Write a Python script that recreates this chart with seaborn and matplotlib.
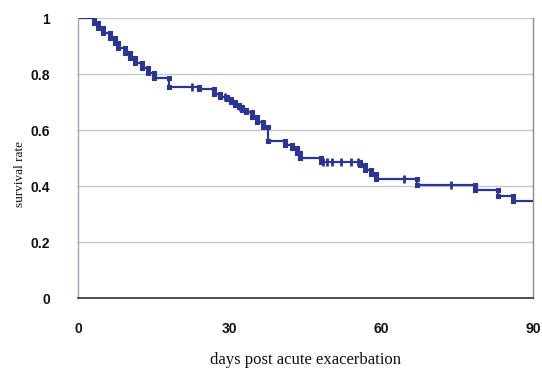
import numpy as np
import pandas as pd
import matplotlib
matplotlib.use("Agg")
import matplotlib.pyplot as plt
import seaborn as sns

# Kaplan-Meier style survival estimate after acute exacerbation
event_days = [0, 3.2, 4.0, 5.0, 6.3, 7.3, 8.0, 9.2, 10.3, 11.3, 12.6, 13.8, 15.0,
              18.0, 24.0, 27.0, 28.0, 29.5, 30.3, 31.0, 31.8, 32.5, 33.2, 34.5,
              35.5, 36.5, 37.5, 41.0, 42.3, 43.3, 44.0, 48.0, 55.8, 56.8, 58.0,
              59.0, 67.0, 78.5, 83.0, 86.0, 90.0]
survival = [1.0, 0.982, 0.964, 0.946, 0.929, 0.911, 0.893, 0.875, 0.857, 0.839,
            0.821, 0.804, 0.786, 0.754, 0.745, 0.727, 0.718, 0.709, 0.700, 0.691,
            0.682, 0.673, 0.664, 0.646, 0.628, 0.610, 0.560, 0.546, 0.536, 0.518,
            0.500, 0.487, 0.475, 0.457, 0.443, 0.425, 0.404, 0.386, 0.365, 0.345,
            0.345]
censored_days = [22.5, 29.0, 32.0, 48.5, 49.3, 50.2, 52.0, 54.0, 55.3, 64.5, 73.8]

x_ticks = [0, 30, 60, 90]
y_ticks = [0, 0.2, 0.4, 0.6, 0.8, 1.0]
y_tick_labels = ["0", "0.2", "0.4", "0.6", "0.8", "1"]

line_color = "#2b3592"

sns.set_theme(style="white")

fig = plt.figure(figsize=(5.42, 3.69), dpi=100)
ax = fig.add_axes([78 / 542, 71 / 369, 455 / 542, 280 / 369])

curve = pd.DataFrame({"day": event_days, "surv": survival})
sns.lineplot(data=curve, x="day", y="surv", ax=ax, color=line_color,
             linewidth=1.6, drawstyle="steps-post", estimator=None, sort=False)

# vertices of every step, marked like the original spreadsheet curve
vx, vy = [], []
for i in range(1, len(event_days) - 1):
    vx += [event_days[i], event_days[i]]
    vy += [survival[i - 1], survival[i]]
verts = pd.DataFrame({"day": vx, "surv": vy})
sns.scatterplot(data=verts, x="day", y="surv", ax=ax, marker="s", s=7,
                color=line_color, edgecolor=line_color, linewidth=0.8, zorder=3)

# censoring ticks
idx = np.searchsorted(event_days, censored_days, side="right") - 1
cens = pd.DataFrame({"day": censored_days,
                     "surv": [survival[i] for i in idx]})
sns.scatterplot(data=cens, x="day", y="surv", ax=ax, marker="|", s=40,
                color=line_color, linewidth=2.0, zorder=3)

ax.set_xlim(0, 90)
ax.set_ylim(0, 1)
ax.set_xticks(x_ticks)
ax.set_yticks(y_ticks)
ax.set_yticklabels(y_tick_labels)
ax.grid(axis="y", color="#c4c8cc", linewidth=1.0)
ax.grid(axis="x", visible=False)
ax.set_axisbelow(True)

ax.spines["top"].set_visible(False)
ax.spines["left"].set_color("#9aa4b4")
ax.spines["left"].set_linewidth(1.0)
ax.spines["right"].set_color("#8c8c8c")
ax.spines["right"].set_linewidth(1.0)
ax.spines["bottom"].set_color("#333333")
ax.spines["bottom"].set_linewidth(1.2)

ax.tick_params(axis="both", direction="in", length=3, width=1, colors="#555555")
ax.tick_params(axis="y", pad=20)
ax.tick_params(axis="x", pad=17)
for lab in ax.get_xticklabels() + ax.get_yticklabels():
    lab.set_fontfamily("Liberation Sans")
    lab.set_fontweight("bold")
    lab.set_fontsize(10)
    lab.set_color("#111111")

ax.set_xlabel("")
ax.set_ylabel("")
fig.text(306 / 542, 1 - 360 / 369, "days post acute exacerbation",
         ha="center", va="center", fontsize=12, family="Liberation Serif",
         color="#111111")
fig.text(20 / 542, 1 - 174 / 369, "survival rate", rotation=90,
         ha="center", va="center", fontsize=9.5, family="Liberation Serif",
         color="#111111")

fig.savefig("out.png", dpi=100)
